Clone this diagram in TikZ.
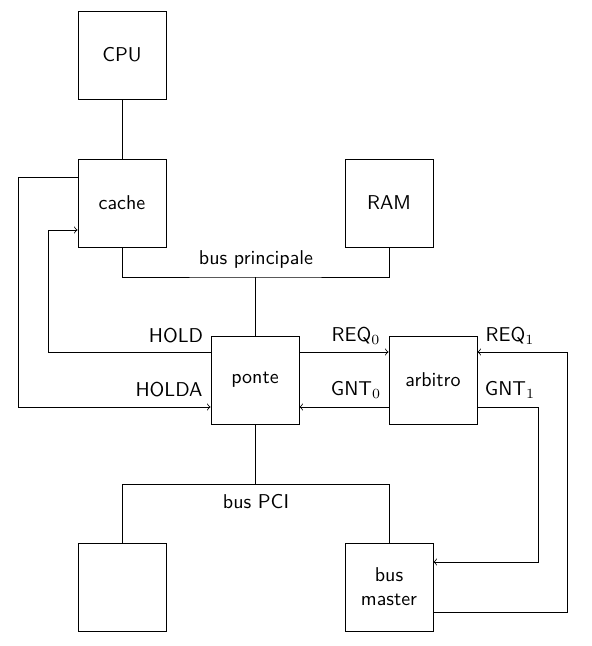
\documentclass[tikz,border=0pt]{standalone}
\usepackage{tikz}
\begin{document}
\begin{tikzpicture}[x=0.5pt,y=-0.5pt,
  blk/.style={draw,minimum width=44pt,minimum height=44pt,inner sep=0pt,font=\sffamily,align=center},
  lbl/.style={font=\sffamily,inner sep=0pt},
  sig/.style={->,>=to}]
\useasboundingbox (0,0) rectangle (592,646);
\node[blk] (cpu) at (122,55) {CPU};
\node[blk] (cache) at (122,203) {cache};
\node[blk] (ram) at (389,203) {RAM};
\node[blk] (ponte) at (255,380) {ponte};
\node[blk] (arb) at (433,380) {arbitro};
\node[blk] (empty) at (122,587) {};
\node[blk] (bm) at (389,587) {bus\\master};
% buses
\coordinate (bp) at (255,277);
\coordinate (pci) at (255,484);
\draw (cpu.south) -- (cache.north);
\draw (cache.south) |- (bp) -| (ram.south);
\draw (ponte.north) -- (bp);
\node[lbl] (lbp) at (256,259) {bus principale};
\draw (ponte.south) -- (pci);
\draw (pci) -| (empty.north);
\draw (pci) -| (bm.north);
\node[lbl] (lpci) at (256,502) {bus PCI};
% HOLD
\coordinate (h1) at (48,352);
\coordinate (h2) at (48,230);
\draw[sig] (ponte.west |- h1) -- (h1) -- (h2) -- (cache.west |- h2);
\node[lbl] (lhold) at (176,336) {HOLD};
% HOLDA
\coordinate (ha1) at (18,177);
\coordinate (ha2) at (18,407);
\draw[sig] (cache.west |- ha1) -- (ha1) -- (ha2) -- (ponte.west |- ha2);
\node[lbl] (lholda) at (169,390) {HOLDA};
% REQ0 / GNT0
\draw[sig] (ponte.east |- h1) -- (arb.west |- h1);
\node[lbl] (lreq0) at (356,336) {REQ$_0$};
\draw[sig] (arb.west |- ha2) -- (ponte.east |- ha2);
\node[lbl] (lgnt0) at (356,390) {GNT$_0$};
% REQ1
\coordinate (r1) at (567,612);
\coordinate (r2) at (567,352);
\draw[sig] (bm.east |- r1) -- (r1) -- (r2) -- (arb.east |- r2);
\node[lbl] (lreq1) at (510,336) {REQ$_1$};
% GNT1
\coordinate (g1) at (538,407);
\coordinate (g2) at (538,562);
\draw[sig] (arb.east |- g1) -- (g1) -- (g2) -- (bm.east |- g2);
\node[lbl] (lgnt1) at (510,390) {GNT$_1$};
\end{tikzpicture}
\end{document}
